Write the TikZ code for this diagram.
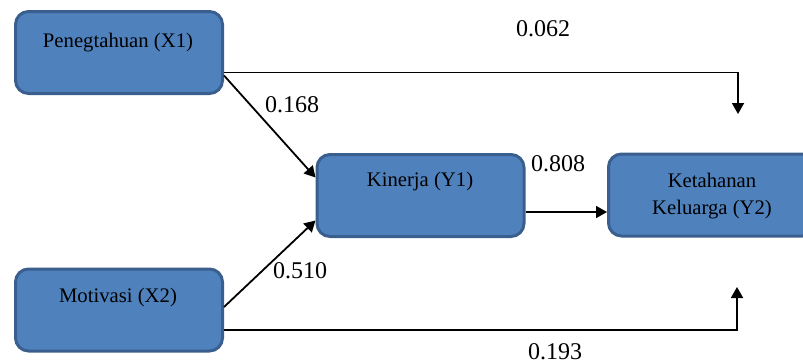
\documentclass[tikz,border=0pt]{standalone}
\usepackage{fontspec}
\setmainfont{Liberation Serif}
\usetikzlibrary{arrows.meta}
\definecolor{boxfill}{HTML}{4F81BD}
\definecolor{boxline}{HTML}{3A5F8E}
\tikzset{
  varbox/.style={draw=boxline,fill=boxfill,line width=3pt,rounded corners=13pt,
    minimum width=207pt,minimum height=82pt,inner sep=0pt},
  vartext/.style={font=\fontsize{20.7}{27}\selectfont,align=center,anchor=base},
  coef/.style={font=\fontsize{24}{28}\selectfont,inner sep=0pt},
  link/.style={-{Triangle[length=11pt,width=12pt]},line width=1.8pt}
}
\begin{document}
\begin{tikzpicture}[x=1pt,y=-1pt,line join=miter]
  \useasboundingbox (0,0) rectangle (803,364);
  % variables
  \node[varbox] (x1) at (119,52.5) {};
  \node[varbox] (x2) at (119,310) {};
  \node[varbox] (y1) at (420.5,195.5) {};
  \node[varbox] (y2) at (712,195) {};
  \node[vartext] (x1t) at (118,47.5) {Penegtahuan (X1)};
  \node[vartext] (x2t) at (118,302) {Motivasi (X2)};
  \node[vartext] (y1t) at (420,186) {Kinerja (Y1)};
  \node[vartext] (y2t) at (712,214) {Ketahanan\\Keluarga (Y2)};
  % free ends of the side paths
  \coordinate (y2top) at (738,114);
  \coordinate (y2bot) at (737,287);
  % paths
  \draw[link] ([yshift=-23pt]x1.east) -- ([yshift=18pt]y1.west);
  \draw[link] ([yshift=3pt]x2.east) -- ([yshift=-25pt]y1.west);
  \draw[link] ([yshift=-20pt]x1.east) -| (y2top);
  \draw[link] ([yshift=-20pt]x2.east) -| (y2bot);
  \draw[link] ([yshift=-16.5pt]y1.east) -- ([yshift=-16.5pt]y1.east -| y2.west);
  % coefficients
  \node[coef] (c062) at (543,29) {0.062};
  \node[coef] (c168) at (292,105) {0.168};
  \node[coef] (c808) at (558,164) {0.808};
  \node[coef] (c510) at (300,271) {0.510};
  \node[coef] (c193) at (555,352) {0.193};
\end{tikzpicture}
\end{document}
